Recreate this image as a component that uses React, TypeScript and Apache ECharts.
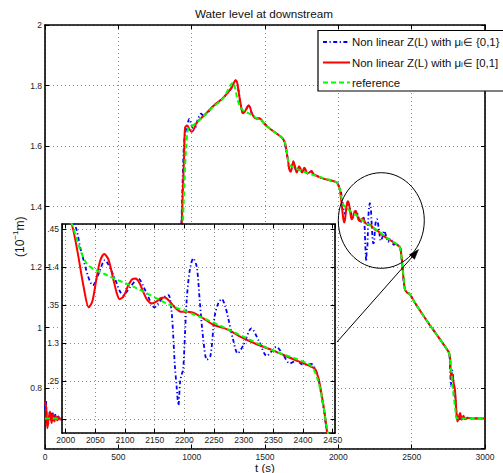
import React, { useEffect, useRef } from "react";
import * as echarts from "echarts";

const chartTitle = "Water level at downstream";
const xAxisName = "t (s)";
const yAxisNameRich = "(10{sup|−1}m)";
const legendLabelsRich = [
  "Non linear Z(L) with μ{sub|i}∈ {0,1}",
  "Non linear Z(L) with μ{sub|i}∈ [0,1]",
  "reference",
];
const seriesNames = [
  "Non linear Z(L) with μi∈ {0,1}",
  "Non linear Z(L) with μi∈ [0,1]",
  "reference",
];
const seriesColors = ["#0000ff", "#ff0000", "#00ff00"];

// [t (s), level (10^-1 m)]
const blueData: [number, number][] = [
  [0, 0.73], [6, 0.76], [12, 0.7], [20, 0.675], [30, 0.718], [40, 0.69], [50, 0.722],
  [60, 0.688], [70, 0.712], [80, 0.692], [90, 0.706], [102, 0.696], [120, 0.699],
  [880, 0.699], [890, 0.74], [930, 1.34], [945, 1.58], [955, 1.64], [968, 1.665],
  [984, 1.69], [995, 1.675], [1008, 1.66], [1023, 1.66], [1040, 1.685], [1064, 1.707],
  [1080, 1.7], [1148, 1.732], [1216, 1.76], [1273, 1.793], [1300, 1.817], [1318, 1.787],
  [1334, 1.738], [1352, 1.708], [1370, 1.72], [1389, 1.735], [1409, 1.71], [1439, 1.691],
  [1466, 1.691], [1489, 1.677], [1534, 1.657], [1602, 1.633], [1625, 1.622], [1648, 1.578],
  [1666, 1.522], [1675, 1.517], [1693, 1.546], [1716, 1.514], [1732, 1.53], [1752, 1.514],
  [1768, 1.526], [1789, 1.51], [1818, 1.516], [1830, 1.507], [1898, 1.492], [1966, 1.484],
  [1992, 1.479], [2005, 1.466], [2016, 1.455], [2027, 1.418], [2046, 1.376], [2056, 1.392],
  [2066, 1.409], [2080, 1.39], [2097, 1.363], [2110, 1.375], [2122, 1.385], [2135, 1.368],
  [2150, 1.347], [2162, 1.358], [2173, 1.363], [2178, 1.345], [2181, 1.313], [2184, 1.27],
  [2187, 1.2425], [2190, 1.218], [2193, 1.25], [2196, 1.26], [2198, 1.2645], [2201, 1.31],
  [2204, 1.357], [2209, 1.395], [2215, 1.4114], [2221, 1.4], [2226, 1.355], [2232, 1.304],
  [2238, 1.278], [2244, 1.283], [2251, 1.335], [2257, 1.352], [2263, 1.358], [2269, 1.348],
  [2274, 1.3325], [2282, 1.305], [2290, 1.2864], [2300, 1.298], [2313, 1.3193], [2326, 1.302],
  [2339, 1.283], [2347, 1.289], [2355, 1.295], [2366, 1.285], [2378, 1.273], [2389, 1.277],
  [2398, 1.272], [2406, 1.2715], [2414, 1.2725], [2421, 1.265], [2426, 1.252], [2431, 1.231],
  [2436, 1.207], [2440, 1.1855], [2455, 1.125], [2489, 1.109], [2523, 1.081], [2614, 1.015],
  [2750, 0.921], [2758, 0.905], [2761, 0.883], [2768, 0.807], [2775, 0.86], [2782, 0.837],
  [2788, 0.8], [2795, 0.777], [2800, 0.76], [2806, 0.715], [2812, 0.692], [2822, 0.705],
  [2834, 0.693], [2846, 0.703], [2860, 0.698], [2880, 0.7], [3000, 0.699],
];

const redData: [number, number][] = [
  [0, 0.755], [8, 0.735], [16, 0.667], [25, 0.7], [34, 0.722], [45, 0.684], [55, 0.713],
  [64, 0.689], [74, 0.707], [84, 0.693], [95, 0.703], [108, 0.696], [125, 0.699],
  [880, 0.699], [892, 0.75], [932, 1.34], [948, 1.561], [955, 1.661], [970, 1.668],
  [985, 1.655], [1000, 1.647], [1015, 1.655], [1034, 1.677], [1080, 1.699], [1148, 1.732],
  [1216, 1.76], [1273, 1.793], [1300, 1.817], [1310, 1.81], [1318, 1.787], [1334, 1.738],
  [1345, 1.712], [1352, 1.708], [1370, 1.72], [1389, 1.735], [1400, 1.725], [1409, 1.71],
  [1425, 1.695], [1439, 1.691], [1466, 1.691], [1489, 1.677], [1534, 1.657], [1602, 1.633],
  [1625, 1.622], [1640, 1.605], [1648, 1.578], [1659, 1.545], [1666, 1.522], [1675, 1.515],
  [1684, 1.53], [1693, 1.55], [1704, 1.533], [1716, 1.512], [1724, 1.52], [1732, 1.533],
  [1742, 1.525], [1752, 1.512], [1760, 1.518], [1768, 1.528], [1778, 1.52], [1789, 1.509],
  [1800, 1.512], [1818, 1.517], [1830, 1.507], [1860, 1.5], [1898, 1.492], [1940, 1.487],
  [1966, 1.484], [1990, 1.479], [2000, 1.47], [2010, 1.457], [2020, 1.42], [2030, 1.375],
  [2039, 1.347], [2045, 1.355], [2052, 1.385], [2058, 1.408], [2065, 1.417], [2072, 1.41],
  [2080, 1.385], [2086, 1.366], [2091, 1.3575], [2098, 1.362], [2105, 1.375], [2112, 1.384],
  [2118, 1.385], [2125, 1.378], [2132, 1.365], [2138, 1.356], [2145, 1.352], [2152, 1.354],
  [2160, 1.359], [2167, 1.36], [2175, 1.355], [2185, 1.346], [2195, 1.341], [2205, 1.341],
  [2212, 1.3404], [2220, 1.338], [2232, 1.3325], [2249, 1.324], [2268, 1.3193], [2280, 1.315],
  [2294, 1.3083], [2320, 1.299], [2350, 1.29], [2380, 1.28], [2414, 1.2688], [2420, 1.266],
  [2426, 1.254], [2431, 1.234], [2436, 1.21], [2440, 1.1855], [2443, 1.17], [2455, 1.125],
  [2470, 1.115], [2489, 1.109], [2523, 1.081], [2614, 1.015], [2750, 0.921], [2761, 0.904],
  [2766, 0.86], [2772, 0.827], [2778, 0.845], [2785, 0.82], [2795, 0.794], [2806, 0.717],
  [2812, 0.689], [2820, 0.7], [2830, 0.717], [2842, 0.695], [2853, 0.708], [2864, 0.697],
  [2880, 0.702], [2910, 0.699], [3000, 0.699],
];

const greenData: [number, number][] = [
  [0, 0.699], [880, 0.699], [895, 0.75], [940, 1.34], [961, 1.589], [977, 1.66],
  [1000, 1.665], [1040, 1.68], [1080, 1.697], [1148, 1.73], [1216, 1.758], [1284, 1.81],
  [1292, 1.8], [1305, 1.77], [1318, 1.745], [1335, 1.725], [1360, 1.715], [1400, 1.705],
  [1439, 1.693], [1466, 1.688], [1500, 1.672], [1534, 1.657], [1602, 1.633], [1625, 1.622],
  [1642, 1.6], [1655, 1.56], [1666, 1.538], [1700, 1.528], [1780, 1.512], [1890, 1.495],
  [1966, 1.484], [1992, 1.478], [2001, 1.468], [2010, 1.457], [2035, 1.405], [2069, 1.3895],
  [2120, 1.372], [2176, 1.35], [2226, 1.3346], [2270, 1.3193], [2350, 1.29], [2412, 1.271],
  [2423, 1.256], [2432, 1.228], [2438, 1.199], [2441, 1.186], [2448, 1.155], [2455, 1.125],
  [2489, 1.109], [2523, 1.081], [2614, 1.015], [2750, 0.921], [2760, 0.905], [2780, 0.8],
  [2800, 0.72], [2806, 0.7], [3000, 0.699],
];

const mainX = { min: 0, max: 3000, interval: 500 };
const mainY = { min: 0.6, max: 2, interval: 0.2 };
const insetX = { min: 1993.8, max: 2453.9, splitNumber: 9 };
const insetY = { min: 1.1816, max: 1.4566, splitNumber: 5 };
// visible (partly hidden) inset tick labels
const insetYLabels: Record<number, string> = {
  145: ".45", 140: "1.4", 135: ".35", 130: "1.3", 125: ".25", 120: "",
};

const FONT = "Liberation Sans, Arial, Helvetica, sans-serif";

export default function App() {
  const ref = useRef<HTMLDivElement>(null);
  useEffect(() => {
    if (!ref.current) return;
    const chart = echarts.init(ref.current, undefined, { renderer: "svg" });
    const axisLine = { show: true, onZero: false, lineStyle: { color: "#000", width: 1.6 } };
    const tick = { show: true, inside: true, length: 4, lineStyle: { color: "#000", width: 1 } };
    const split = { show: true, lineStyle: { color: "#8a8a8a", width: 1, type: [1, 3] as any } };
    const label = {
      fontSize: 8.5, color: "#222", fontFamily: FONT, lineHeight: 9,
      formatter: (v: number) => String(Math.round(v * 1000) / 1000),
    };

    const lineStyles: any[] = [
      { width: 1.8, type: [4, 2.5, 1.2, 2.5] },
      { width: 2, type: "solid" },
      { width: 2, type: [5, 3] },
    ];
    const datas = [blueData, redData, greenData];
    const series: any[] = [];
    [0, 1].forEach((g) => {
      datas.forEach((d, i) => {
        series.push({
          type: "line",
          name: seriesNames[i],
          data: d,
          xAxisIndex: g === 0 ? 0 : 2,
          yAxisIndex: g === 0 ? 0 : 2,
          symbol: "none",
          showSymbol: false,
          smooth: 0.3,
          clip: true,
          silent: true,
          z: g === 0 ? 2 + i * 0.1 : 7 + i * 0.1,
          itemStyle: { color: seriesColors[i] },
          lineStyle: { color: seriesColors[i], ...lineStyles[i] },
        });
      });
    });

    // legend drawn as graphic (box runs past the right edge, like the reference)
    const legendRowsY = [42, 62.5, 82.5];
    const legendGraphics: any[] = [
      {
        type: "rect", z: 20, silent: true,
        shape: { x: 318, y: 30.5, width: 200, height: 60.5 },
        style: { fill: "#fff", stroke: "#000", lineWidth: 1.2 },
      },
    ];
    legendRowsY.forEach((y, i) => {
      const ls = lineStyles[i];
      legendGraphics.push({
        type: "line", z: 21, silent: true,
        shape: { x1: 323, y1: y, x2: 350, y2: y },
        style: {
          stroke: seriesColors[i], lineWidth: ls.width,
          lineDash: Array.isArray(ls.type) ? ls.type : null,
        },
      });
      legendGraphics.push({
        type: "text", z: 21, silent: true,
        x: 352, y,
        style: {
          text: legendLabelsRich[i],
          fontSize: 11.4, fontFamily: FONT, fill: "#111",
          verticalAlign: "middle", align: "left",
          rich: {
            sub: { fontSize: 8, fontFamily: FONT, fill: "#111", lineHeight: 8, verticalAlign: "bottom" },
          },
        },
      });
    });

    const tip: [number, number] = [418.5, 249.5];
    chart.setOption({
      animation: false,
      backgroundColor: "#fff",
      title: {
        text: chartTitle,
        left: 195,
        top: 7,
        padding: 0,
        textStyle: { fontSize: 11.7, fontWeight: "normal", color: "#111", fontFamily: FONT },
      },
      grid: [
        { left: 45, top: 25, width: 440, height: 423.5, show: false, containLabel: false, outerBoundsMode: "none" },
        {
          left: 62, top: 224, width: 273, height: 209, show: true, backgroundColor: "#fff",
          borderWidth: 0, z: 5, containLabel: false, outerBoundsMode: "none",
        },
      ],
      xAxis: [
        {
          type: "value", gridIndex: 0, position: "bottom", ...mainX,
          axisLine, axisTick: tick, splitLine: split,
          axisLabel: { ...label, margin: 4 },
          name: xAxisName, nameLocation: "middle", nameGap: 13.5, nameMoveOverlap: false,
          nameTextStyle: { fontSize: 11.5, color: "#111", fontFamily: FONT },
        },
        {
          type: "value", gridIndex: 0, position: "top", ...mainX,
          axisLine, axisTick: tick, splitLine: { show: false }, axisLabel: { show: false },
        },
        {
          type: "value", gridIndex: 1, position: "bottom", ...insetX, z: 6,
          axisLine, axisTick: tick, splitLine: split,
          axisLabel: { ...label, margin: 2.5, showMinLabel: false, showMaxLabel: false },
        },
        {
          type: "value", gridIndex: 1, position: "top", ...insetX, z: 6,
          axisLine, axisTick: tick, splitLine: { show: false }, axisLabel: { show: false },
        },
      ],
      yAxis: [
        {
          type: "value", gridIndex: 0, position: "left", ...mainY,
          axisLine, axisTick: tick, splitLine: split,
          axisLabel: { ...label, margin: 3, showMinLabel: false },
          name: yAxisNameRich, nameLocation: "middle", nameGap: 16, nameMoveOverlap: false,
          nameTextStyle: {
            fontSize: 12, color: "#111", fontFamily: FONT, lineHeight: 18,
            rich: { sup: { fontSize: 8, fontFamily: FONT, color: "#111", lineHeight: 8, verticalAlign: "top" } },
          },
        },
        {
          type: "value", gridIndex: 0, position: "right", ...mainY,
          axisLine, axisTick: tick, splitLine: { show: false }, axisLabel: { show: false },
        },
        {
          type: "value", gridIndex: 1, position: "left", ...insetY, z: 6,
          axisLine, axisTick: tick, splitLine: split,
          axisLabel: {
            ...label, margin: 3, showMinLabel: false, showMaxLabel: false,
            formatter: (v: number) => {
              const k = Math.round(v * 100);
              return k in insetYLabels ? insetYLabels[k] : "";
            },
          },
        },
        {
          type: "value", gridIndex: 1, position: "right", ...insetY, z: 6,
          axisLine, axisTick: tick, splitLine: { show: false }, axisLabel: { show: false },
        },
      ],
      graphic: [
        {
          type: "ellipse", z: 12, silent: true,
          shape: { cx: 381.3, cy: 220.5, rx: 43, ry: 47.8 },
          style: { fill: "none", stroke: "#000", lineWidth: 1 },
        },
        {
          type: "line", z: 12, silent: true,
          shape: { x1: 337, y1: 342, x2: 413, y2: 256 },
          style: { stroke: "#000", lineWidth: 1 },
        },
        {
          type: "polygon", z: 12, silent: true,
          shape: { points: [tip, [414.5, 259.3], [409.3, 254.7]] },
          style: { fill: "#000", stroke: "#000", lineWidth: 0.5 },
        },
        ...legendGraphics,
      ],
      series,
    });
    return () => chart.dispose();
  }, []);
  return (
    <div
      ref={ref}
      style={{ position: "fixed", left: 0, top: 0, width: 503, height: 473, background: "#fff" }}
    />
  );
}
